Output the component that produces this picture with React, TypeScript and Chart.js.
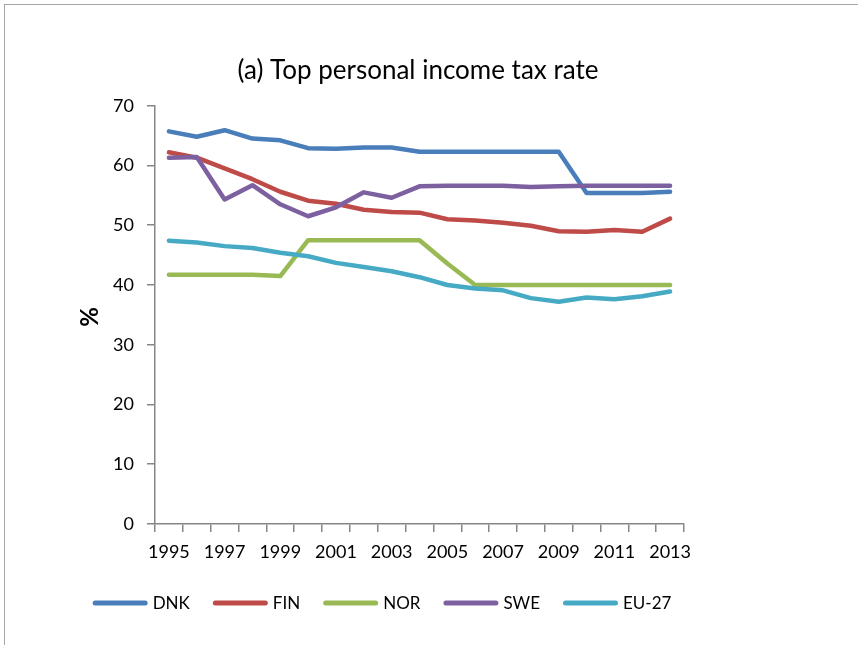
import React, { useEffect, useRef } from 'react';
import { Chart, registerables } from 'chart.js';

Chart.register(...registerables);

const years = ['1995', '1996', '1997', '1998', '1999', '2000', '2001', '2002', '2003', '2004', '2005', '2006', '2007', '2008', '2009', '2010', '2011', '2012', '2013'];
const dnk = [65.7, 64.8, 65.9, 64.5, 64.2, 62.9, 62.8, 63.0, 63.0, 62.3, 62.3, 62.3, 62.3, 62.3, 62.3, 55.4, 55.4, 55.4, 55.6];
const fin = [62.2, 61.3, 59.5, 57.7, 55.6, 54.1, 53.6, 52.6, 52.2, 52.1, 51.0, 50.8, 50.4, 49.9, 49.0, 48.9, 49.2, 48.9, 51.1];
const nor = [41.7, 41.7, 41.7, 41.7, 41.5, 47.5, 47.5, 47.5, 47.5, 47.5, 43.6, 40.0, 40.0, 40.0, 40.0, 40.0, 40.0, 40.0, 40.0];
const swe = [61.3, 61.4, 54.3, 56.7, 53.5, 51.5, 53.0, 55.5, 54.6, 56.5, 56.6, 56.6, 56.6, 56.4, 56.5, 56.6, 56.6, 56.6, 56.6];
const eu27 = [47.4, 47.1, 46.5, 46.2, 45.4, 44.8, 43.7, 43.0, 42.3, 41.3, 40.0, 39.4, 39.1, 37.8, 37.2, 37.9, 37.6, 38.1, 38.9];

const seriesLabels = ['DNK', 'FIN', 'NOR', 'SWE', 'EU-27'];
const seriesColors = ['#4A7EBB', '#BE4B48', '#98B954', '#7D60A0', '#46AAC5'];
const seriesValues = [dnk, fin, nor, swe, eu27];

const titleText = '(a) Top personal income tax rate';
const yAxisTitle = '%';
const yMin = 0;
const yMax = 70;
const yStep = 10;

const FONT = 'Lato, "Open Sans", sans-serif';

export default function App() {
  const ref = useRef<HTMLCanvasElement | null>(null);

  useEffect(() => {
    if (!ref.current) return;

    const decorPlugin = {
      id: 'decor',
      afterDraw(chart: any) {
        const ctx = chart.ctx as CanvasRenderingContext2D;
        const area = chart.chartArea;
        ctx.save();
        // Title
        ctx.fillStyle = '#000';
        ctx.font = `26px ${FONT}`;
        ctx.textAlign = 'center';
        ctx.textBaseline = 'alphabetic';
        ctx.fillText(titleText, 418, 79);

        // Y axis title
        ctx.save();
        ctx.translate(90, (area.top + area.bottom) / 2 + 2);
        ctx.rotate(-Math.PI / 2);
        ctx.font = `bold 24px ${FONT}`;
        ctx.textAlign = 'center';
        ctx.textBaseline = 'middle';
        ctx.fillText(yAxisTitle, 0, 0);
        ctx.restore();

        // Legend
        ctx.font = `17px ${FONT}`;
        const lineLen = 55;
        const gapText = 5;
        const gapItem = 23;
        const items = chart.data.datasets.map((ds: any) => ({
          label: ds.label as string,
          color: ds.borderColor as string,
          w: ctx.measureText(ds.label).width,
        }));
        const total = items.reduce((s: number, it: any) => s + lineLen + gapText + it.w, 0) + gapItem * (items.length - 1);
        let x = 382 - total / 2;
        const y = 603;
        ctx.textAlign = 'left';
        ctx.textBaseline = 'middle';
        for (const it of items) {
          ctx.beginPath();
          ctx.strokeStyle = it.color;
          ctx.lineWidth = 5;
          ctx.lineCap = 'round';
          ctx.moveTo(x + 2.5, y);
          ctx.lineTo(x + lineLen - 2.5, y);
          ctx.stroke();
          ctx.fillStyle = '#000';
          ctx.fillText(it.label, x + lineLen + gapText, y + 1);
          x += lineLen + gapText + it.w + gapItem;
        }
        ctx.restore();
      },
    };

    const chart = new Chart(ref.current, {
      type: 'line',
      data: {
        labels: years,
        datasets: seriesValues.map((vals, i) => ({
          label: seriesLabels[i],
          data: vals,
          borderColor: seriesColors[i],
          backgroundColor: seriesColors[i],
          borderWidth: 4.5,
          pointRadius: 0,
          pointHoverRadius: 0,
          tension: 0,
          borderJoinStyle: 'round' as const,
          borderCapStyle: 'round' as const,
          order: seriesValues.length - i,
          fill: false,
        })),
      },
      options: {
        responsive: false,
        animation: false,
        events: [],
        layout: {
          padding: { left: 95, right: 174, top: 105.7, bottom: 61 },
        },
        plugins: {
          legend: { display: false },
          title: { display: false },
          tooltip: { enabled: false },
        },
        scales: {
          x: {
            type: 'category',
            offset: true,
            afterFit(scale: any) {
              scale.height = 60;
            },
            grid: {
              display: true,
              offset: true,
              drawOnChartArea: false,
              drawTicks: true,
              tickLength: 8,
              color: '#868686',
              lineWidth: 1.5,
            },
            border: { display: true, color: '#868686', width: 1.5 },
            ticks: {
              autoSkip: false,
              maxRotation: 0,
              minRotation: 0,
              padding: 9,
              color: '#000',
              font: { family: FONT, size: 18 },
              callback: (_v: any, idx: number) => (idx % 2 === 0 ? years[idx] : ''),
            },
          },
          y: {
            min: yMin,
            max: yMax,
            afterFit(scale: any) {
              scale.width = 60;
            },
            grid: {
              display: true,
              drawOnChartArea: false,
              drawTicks: true,
              tickLength: 8,
              color: '#868686',
              lineWidth: 1.5,
            },
            border: { display: true, color: '#868686', width: 1.5 },
            ticks: {
              stepSize: yStep,
              padding: 13,
              color: '#000',
              font: { family: FONT, size: 18 },
            },
          },
        },
      },
      plugins: [decorPlugin],
    });

    return () => chart.destroy();
  }, []);

  return (
    <div style={{ position: 'fixed', left: 0, top: 0, width: 858, height: 645, overflow: 'hidden', background: '#fff' }}>
      <div
        style={{
          position: 'absolute',
          left: 4,
          top: 4,
          width: 900,
          height: 700,
          border: '1.5px solid #a6a6a6',
          boxSizing: 'border-box',
        }}
      />
      <canvas ref={ref} width={858} height={645} style={{ position: 'absolute', left: 0, top: 0, display: 'block' }} />
    </div>
  );
}
